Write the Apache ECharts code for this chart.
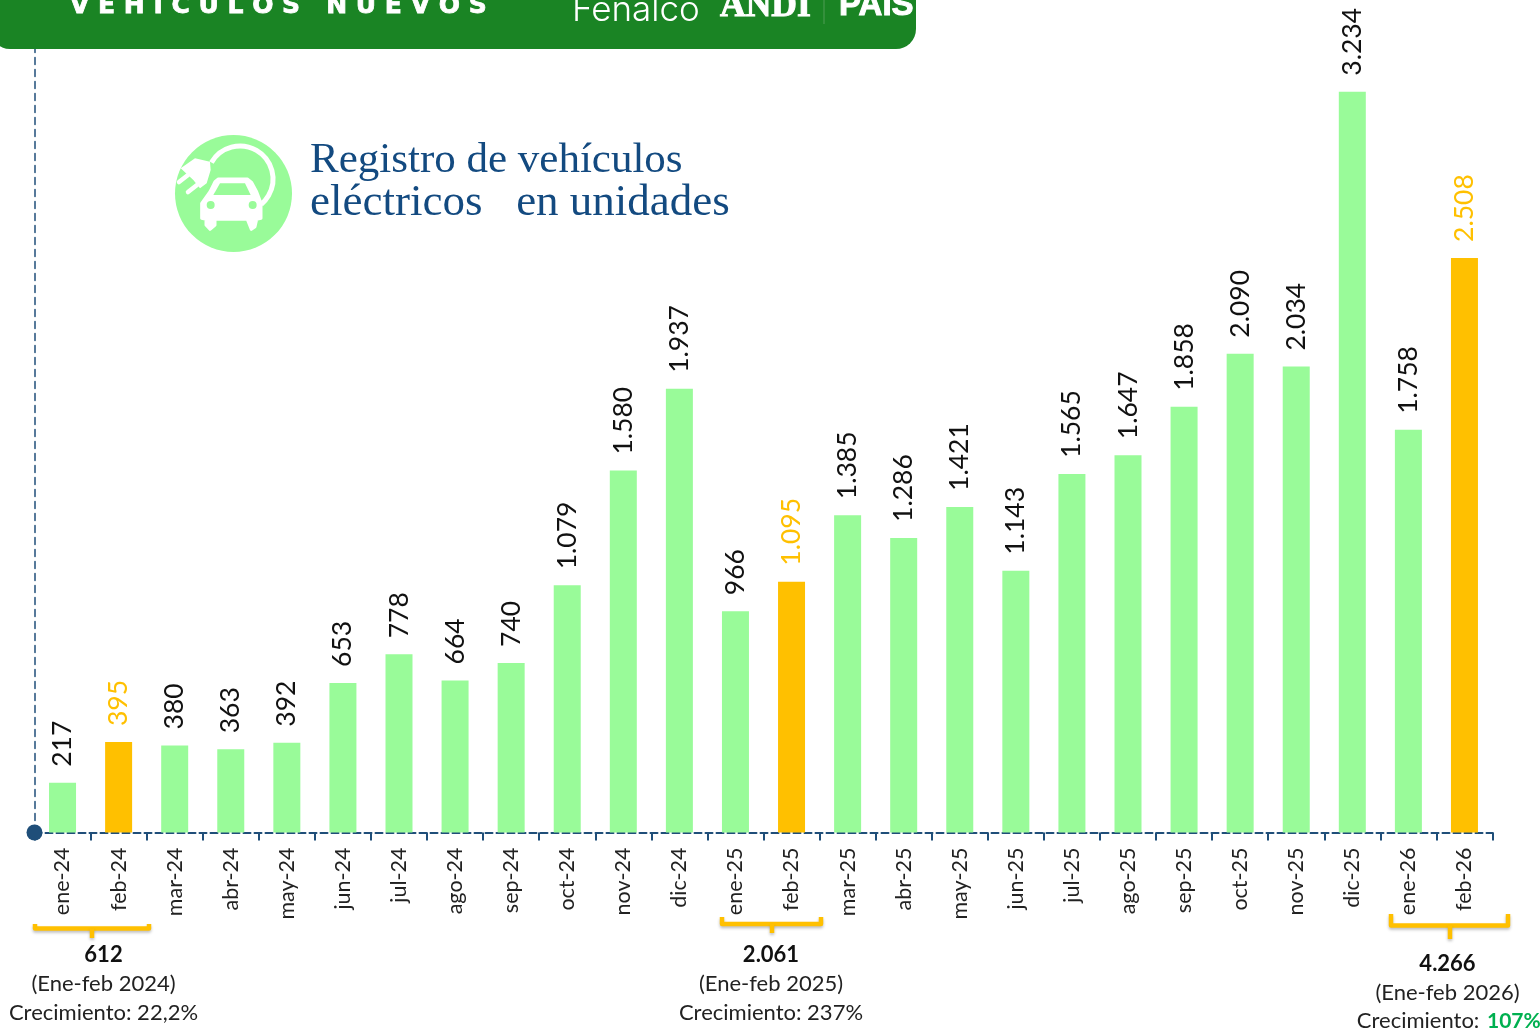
<!DOCTYPE html>
<html><head><meta charset="utf-8">
<style>html,body{margin:0;padding:0;background:#fff}#c{width:1540px;height:1033px}</style>
<script src="https://cdn.jsdelivr.net/npm/echarts@6/dist/echarts.min.js"></script>
</head><body><div id="c"></div>
<script>
const categories = ['ene-24','feb-24','mar-24','abr-24','may-24','jun-24','jul-24','ago-24','sep-24','oct-24','nov-24','dic-24','ene-25','feb-25','mar-25','abr-25','may-25','jun-25','jul-25','ago-25','sep-25','oct-25','nov-25','dic-25','ene-26','feb-26'];
const registros = [217,395,380,363,392,653,778,664,740,1079,1580,1937,966,1095,1385,1286,1421,1143,1565,1647,1858,2090,2034,3234,1758,2508];
const destacados = ['feb-24','feb-25','feb-26'];
const tituloLineas = ['Registro de vehículos','eléctricos   en unidades'];
const resumenes = [
 {x:103.5,y:955,total:'612',periodo:'(Ene-feb 2024)',crec:'Crecimiento: 22,2%',extra:''},
 {x:771,y:955,total:'2.061',periodo:'(Ene-feb 2025)',crec:'Crecimiento: 237%',extra:''},
 {x:1447.5,y:964,total:'4.266',periodo:'(Ene-feb 2026)',crec:'Crecimiento: ',extra:'107%'}
];
const llaves = [[35,149,92,924,928.5,938],[722,821,772,917,924,933],[1391,1508,1450,914,925.5,939]];
const GREEN='#99fb99', ORANGE='#ffc000', NAVY='#1f4e79';
const fmt = v => String(v).replace(/\B(?=(\d{3})+$)/g,'.');
const font='Lato';
const graphic=[];
const z=(x,y)=>[x/3-15,y/3-15];
// banner
graphic.push({type:'rect',z:50,shape:{x:-10,y:-30,width:926,height:79,r:[0,0,20,20]},style:{fill:'#1a8424'}});
graphic.push({type:'text',z:51,x:70,y:-6,style:{text:'V E H Í C U L O S   N U E V O S',fill:'#fff',stroke:'#fff',lineWidth:0.8,font:'bold 25px "DejaVu Sans"',shadowColor:'rgba(0,0,0,.6)',shadowBlur:3,shadowOffsetX:2,shadowOffsetY:2}});
graphic.push({type:'text',z:51,x:572,y:-7,style:{text:'Fenalco',fill:'#fff',font:'300 35px Inter'}});
graphic.push({type:'text',z:51,x:720,y:-11,style:{text:'ANDI',fill:'#fff',stroke:'#fff',lineWidth:1,font:'900 35.5px "Liberation Serif"',shadowColor:'rgba(0,0,0,.6)',shadowBlur:2,shadowOffsetX:1,shadowOffsetY:2}});
graphic.push({type:'line',z:51,shape:{x1:824,y1:0,x2:824,y2:24},style:{stroke:'#4f9c55',lineWidth:1}});
graphic.push({type:'text',z:51,x:839,y:-11,style:{text:'PAIS',fill:'#fff',stroke:'#fff',lineWidth:1,font:'900 33px "Liberation Sans"',shadowColor:'rgba(0,0,0,.6)',shadowBlur:2,shadowOffsetX:1,shadowOffsetY:2}});
// icon
graphic.push({type:'group',x:175,y:135,z:20,children:[
 {type:'circle',z:20,shape:{cx:58.5,cy:58.5,r:58.5},style:{fill:GREEN}},
 {type:'arc',z:21,shape:{cx:65,cy:44,r:33,startAngle:-150*Math.PI/180,endAngle:50*Math.PI/180,clockwise:true},style:{fill:null,stroke:'#fff',lineWidth:5}},
 {type:'polygon',z:21,shape:{points:[z(62,145),z(105,115),z(150,125),z(152,150),z(140,190),z(120,205),z(100,180)]},style:{fill:'#fff'}},
 {type:'line',z:21,shape:{x1:4,y1:47,x2:13,y2:40},style:{stroke:'#fff',lineWidth:4.5,lineCap:'round'}},
 {type:'line',z:21,shape:{x1:13,y1:57,x2:22,y2:50},style:{stroke:'#fff',lineWidth:4.5,lineCap:'round'}},
 {type:'polygon',z:21,shape:{points:[z(125,295),z(125,250),z(150,215),z(165,185),z(175,177),z(262,177),z(275,187),z(290,215),z(303,250),z(303,295),z(290,298),z(285,320),z(274,328),z(262,298),z(165,298),z(165,315),z(150,328),z(138,315),z(138,298)]},style:{fill:'#fff',stroke:'#fff',lineJoin:'round',lineWidth:3}},
 {type:'polygon',z:22,shape:{points:[z(180,190),z(255,190),z(272,225),z(160,225)]},style:{fill:GREEN}},
 {type:'circle',z:22,shape:{cx:152/3-15,cy:255/3-15,r:4},style:{fill:GREEN}},
 {type:'circle',z:22,shape:{cx:278/3-15,cy:255/3-15,r:4},style:{fill:GREEN}}
]});
// title
graphic.push({type:'text',z:20,x:310,y:139,style:{text:tituloLineas[0],fill:'#134a80',font:'43px "Liberation Serif"'}});
graphic.push({type:'text',z:20,x:310,y:181,style:{text:tituloLineas[1],fill:'#134a80',font:'45px "Liberation Serif"'}});
// brackets
llaves.forEach(([a,b,m,t,bot,u])=>{
 const st={fill:null,stroke:ORANGE,lineWidth:4.5,lineJoin:'round',lineCap:'butt',shadowColor:'rgba(0,0,0,.25)',shadowBlur:3,shadowOffsetY:2};
 graphic.push({type:'polyline',z:20,shape:{points:[[a,t],[a,bot],[b,bot],[b,t]]},style:st});
 graphic.push({type:'line',z:20,shape:{x1:m,y1:bot,x2:m,y2:u},style:st});
});
// summaries
const S='22px ';
resumenes.forEach(r=>{
 graphic.push({type:'text',z:20,x:r.x,y:r.y,style:{text:r.total,fill:'#111',font:'bold '+S+font,align:'center',verticalAlign:'middle'}});
 graphic.push({type:'text',z:20,x:r.x,y:r.y+28.5,style:{text:r.periodo,fill:'#222',font:S+font,align:'center',verticalAlign:'middle'}});
 if(!r.extra) graphic.push({type:'text',z:20,x:r.x,y:r.y+57.5,style:{text:r.crec,fill:'#222',font:S+font,align:'center',verticalAlign:'middle'}});
 else{
  graphic.push({type:'text',z:20,x:1485,y:r.y+57,style:{text:r.crec,fill:'#222',font:S+font,align:'right',verticalAlign:'middle'}});
  graphic.push({type:'text',z:20,x:1487,y:r.y+57,style:{text:r.extra,fill:'#00b050',font:'bold 21px '+font,align:'left',verticalAlign:'middle'}});
 }
});
const chart=echarts.init(document.getElementById('c'));
chart.setOption({
 animation:false,
 textStyle:{fontFamily:font},
 grid:{left:34.5,right:47.5,top:7.8,bottom:200.5,containLabel:false},
 xAxis:{type:'category',data:categories,axisLine:{lineStyle:{color:NAVY,type:[7,4],width:2}},
  axisTick:{show:true,length:8,alignWithLabel:false,lineStyle:{color:NAVY,type:'solid',width:2}},
  axisLabel:{rotate:90,fontSize:21.5,color:'#222',margin:15,interval:0,fontFamily:font,padding:[4,0,0,0]}},
 yAxis:{type:'value',min:0,max:3600,splitLine:{show:false},axisLabel:{show:false},axisTick:{show:false},
  axisLine:{show:true,symbol:['circle','none'],symbolSize:[16,16],lineStyle:{color:NAVY,type:[7,5],width:1.5}}},
 series:[{type:'bar',barWidth:27,
  data:categories.map((c,i)=>{const h=destacados.includes(c);return {value:registros[i],itemStyle:{color:h?ORANGE:GREEN},
    label:{color:h?ORANGE:'#111'}};}),
  label:{show:true,position:'top',rotate:90,fontSize:26.5,distance:13,align:'left',verticalAlign:'middle',offset:[3,0],fontFamily:font,formatter:p=>fmt(p.value)}}],
 graphic
});
</script></body></html>
